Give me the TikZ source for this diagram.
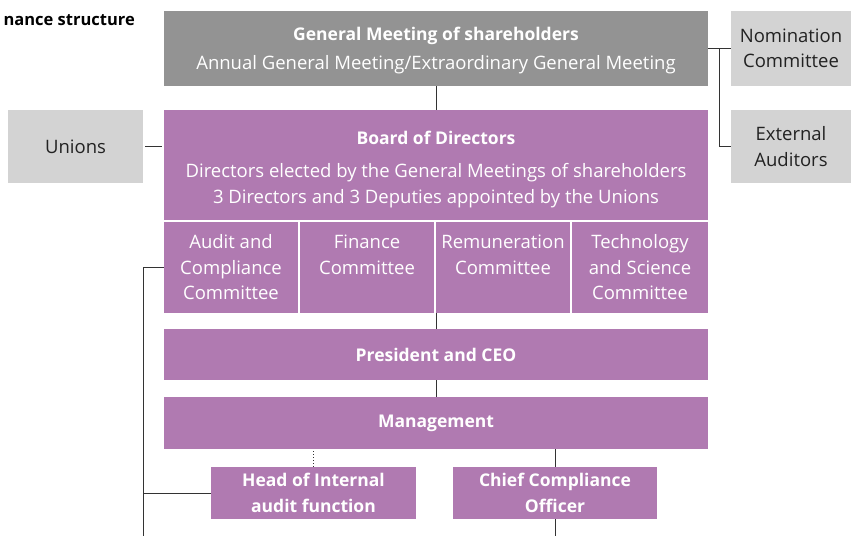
\documentclass[tikz,border=0pt]{standalone}
\usepackage{fontspec}
\setmainfont{Open Sans}
\definecolor{purp}{HTML}{B07AB1}
\definecolor{dgray}{HTML}{939393}
\definecolor{lgray}{HTML}{D3D3D3}
\definecolor{txt}{HTML}{222222}
\begin{document}
\begin{tikzpicture}[x=1pt,y=-1pt,
  box/.style={draw=none,inner sep=0pt,align=center,text=white,
    font=\fontsize{18.5}{25.5}\selectfont},
  pbox/.style={box,fill=purp},
  gbox/.style={box,fill=dgray},
  lbox/.style={box,fill=lgray,text=txt},
  bbox/.style={pbox,font=\fontsize{17.5}{25.5}\selectfont\bfseries},
  htext/.style={text=white,inner sep=0pt,font=\fontsize{17.5}{25.5}\selectfont\bfseries},
  stext/.style={text=white,inner sep=0pt,align=center,font=\fontsize{18.5}{26}\selectfont},
  conn/.style={line width=1pt,draw=black!80}]
\useasboundingbox (0,0) rectangle (851,536);
\node[anchor=west,font=\fontsize{16.5}{19}\selectfont\bfseries,text=black] (title) at (0,20) {nance structure};
% boxes
\node[gbox,minimum width=544,minimum height=75] (gm) at (436,48.5) {};
\node[htext] (gmt) at (436,35.5) {General Meeting of shareholders};
\node[stext] (gms) at (436,65) {Annual General Meeting/Extraordinary General Meeting};
\node[lbox,minimum width=120,minimum height=75] (nom) at (791,48.5) {Nomination\\Committee};
\node[lbox,minimum width=120,minimum height=73] (ext) at (791,146.5) {External\\Auditors};
\node[lbox,minimum width=135,minimum height=73] (unions) at (75.5,146.5) {Unions};
\node[pbox,minimum width=544,minimum height=110] (board) at (436,165) {};
\node[htext] (bt) at (436,137.5) {Board of Directors};
\node[stext] (bs) at (436,186) {Directors elected by the General Meetings of shareholders\\3 Directors and 3 Deputies appointed by the Unions};
\node[pbox,minimum width=134,minimum height=91] (audit) at (231,267.5) {Audit and\\Compliance\\Committee};
\node[pbox,minimum width=134,minimum height=91,text depth=26pt] (fin) at (367,267.5) {Finance\\Committee};
\node[pbox,minimum width=134,minimum height=91,text depth=26pt] (rem) at (503,267.5) {Remuneration\\Committee};
\node[pbox,minimum width=136,minimum height=91] (tech) at (640,267.5) {Technology\\and Science\\Committee};
\node[bbox,minimum width=544,minimum height=51] (pres) at (436,354.5) {President and CEO};
\node[bbox,minimum width=544,minimum height=52] (mgmt) at (436,423) {Management};
\node[bbox,minimum width=205,minimum height=52] (hia) at (313.5,493) {Head of Internal\\audit function};
\node[bbox,minimum width=204,minimum height=52] (cco) at (555,493) {Chief Compliance\\Officer};
% coordinates
\coordinate (jn) at (719,48.5);
\coordinate (lft) at (143,536);
\coordinate (bot) at (555,536);
% connectors
\draw[conn] (gm.south) -- (board.north);
\draw[conn] (gm.east) -- (nom.west);
\draw[conn] (ext.west) -| (jn);
\draw[conn,shorten <=2pt,shorten >=2pt] (unions.east) -- (unions.east -| board.west);
\draw[conn] (pres.north) -- (pres.north |- fin.south);
\draw[conn] (pres.south) -- (mgmt.north);
\draw[conn,dotted,line width=0.8pt] (hia.north) -- (hia.north |- mgmt.south);
\draw[conn] (cco.north) -- (cco.north |- mgmt.south);
\draw[conn] (cco.south) -- (bot);
\draw[conn] (audit.west) -| (lft);
\draw[conn] (hia.west) -- (hia.west -| lft);
\end{tikzpicture}
\end{document}
